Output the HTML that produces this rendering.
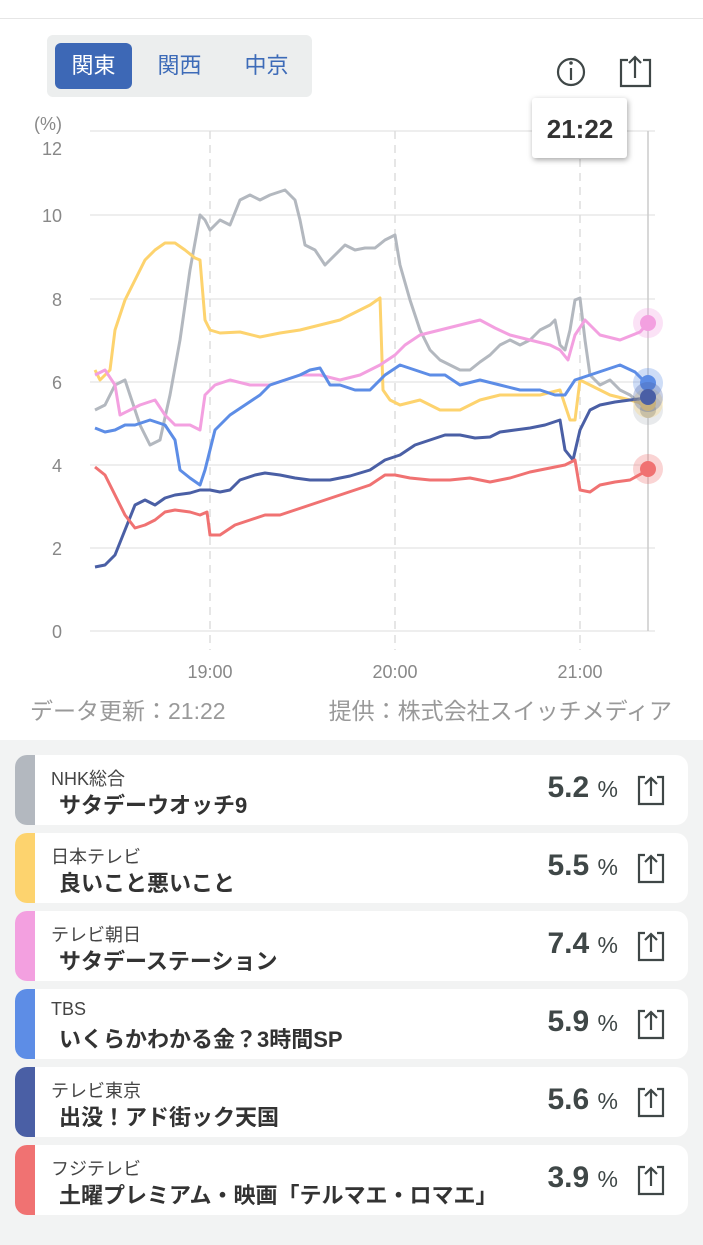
<!DOCTYPE html>
<html><head><meta charset="utf-8"><style>
*{margin:0;padding:0;box-sizing:border-box}
body{width:703px;height:1245px;background:#fff;font-family:"Liberation Sans","Noto Sans CJK JP",sans-serif;position:relative;overflow:hidden}
.abs{position:absolute}
.tabs{left:47px;top:35px;width:265px;height:62px;background:#eceeee;border-radius:6px}
.tab{position:absolute;top:8px;height:46px;width:77px;line-height:46px;text-align:center;font-size:22px;color:#3d6bb8}
.tab.on{background:#3d68b6;color:#fff;border-radius:6px}
.bottom{left:0;top:740px;width:703px;height:505px;background:#f2f3f3}
.card{position:absolute;left:15px;width:673px;height:70px;background:#fff;border-radius:12px;overflow:hidden}
.card .bar{position:absolute;left:0;top:0;width:20px;height:70px}
.card .ch{position:absolute;left:36px;top:10px;font-size:18px;color:#444}
.card .pg{position:absolute;left:44px;top:33px;font-size:22px;font-weight:bold;color:#333}
.card .val{position:absolute;right:70px;top:16px;font-size:30px;font-weight:bold;color:#3f4747}
.card .val span{font-size:23px;font-weight:normal}
.card svg{position:absolute;right:22px;top:19px}
</style></head><body>
<div class="abs" style="left:0;top:18px;width:703px;height:1px;background:#e6e6e6"></div>
<div class="abs tabs"><div class="tab on" style="left:8px">関東</div><div class="tab" style="left:94px">関西</div><div class="tab" style="left:181px">中京</div></div>
<svg class="abs" style="left:0;top:0" width="703" height="740">
<g stroke="#3f4747" stroke-width="2.2" fill="none">
<circle cx="571" cy="72" r="13"/><line x1="571" y1="68" x2="571" y2="80"/>
<path d="M628 60h-7v26h29v-26h-7M635 78v-20M629 63l6-6 6 6"/>
</g><circle cx="571" cy="63" r="1.8" fill="#3f4747"/>
<g stroke="#e8e8e8" stroke-width="1.5">
<line x1="90" y1="131" x2="655" y2="131"/><line x1="90" y1="215" x2="655" y2="215"/><line x1="90" y1="299" x2="655" y2="299"/><line x1="90" y1="382" x2="655" y2="382"/><line x1="90" y1="465" x2="655" y2="465"/><line x1="90" y1="548" x2="655" y2="548"/><line x1="90" y1="631" x2="655" y2="631"/>
</g>
<g stroke="#ddd" stroke-width="1.5" stroke-dasharray="8,6"><line x1="210" y1="131" x2="210" y2="650"/><line x1="395" y1="131" x2="395" y2="650"/><line x1="580" y1="131" x2="580" y2="650"/></g>
<line x1="648" y1="131" x2="648" y2="631" stroke="#ccc" stroke-width="1.5"/>
<g font-size="18" fill="#888" text-anchor="end"><text x="62" y="130">(%)</text><text x="62" y="155">12</text><text x="62" y="222">10</text><text x="62" y="306">8</text><text x="62" y="389">6</text><text x="62" y="472">4</text><text x="62" y="555">2</text><text x="62" y="638">0</text></g>
<g font-size="18" fill="#888" text-anchor="middle"><text x="210" y="678">19:00</text><text x="395" y="678">20:00</text><text x="580" y="678">21:00</text></g>
<g fill="none" stroke-width="3" stroke-linejoin="round">
<polyline stroke="#b3b8bf" points="95,410 105,405 115,385 125,380 130,395 140,425 150,445 160,440 170,395 180,340 190,270 200,215 205,220 210,230 220,220 230,225 240,200 250,195 260,200 270,195 285,190 295,200 300,220 305,245 315,250 325,265 335,255 345,245 355,250 365,248 375,248 385,240 395,235 400,265 410,300 420,330 430,350 440,360 450,365 460,370 470,370 480,362 490,355 500,345 510,340 520,345 530,340 540,330 550,325 555,320 560,345 565,350 570,330 575,300 580,298 585,340 590,375 600,385 610,380 620,390 630,395 648,410"/>
<polyline stroke="#fdd36e" points="95,370 100,380 105,375 110,370 115,330 125,300 135,280 145,260 155,250 165,243 175,243 185,250 195,258 200,260 205,320 210,330 220,333 240,332 260,337 280,333 300,330 320,325 340,320 360,310 370,305 380,298 383,390 390,400 400,405 420,400 440,410 460,410 480,400 500,395 520,395 540,395 560,390 570,420 575,420 580,380 590,385 610,395 630,400 648,405"/>
<polyline stroke="#f3a0e0" points="95,375 105,370 115,385 120,415 130,410 140,405 155,400 165,415 175,425 190,425 200,430 205,395 215,385 230,380 250,385 270,385 285,380 300,375 320,375 340,380 360,375 380,365 395,355 405,345 420,335 440,330 460,325 480,320 495,328 510,335 530,340 550,345 560,350 568,360 575,335 585,320 600,335 620,340 640,332 648,323"/>
<polyline stroke="#5d8de6" points="95,428 105,432 115,430 125,425 135,425 150,420 165,425 175,440 180,470 190,478 200,485 205,470 215,430 230,415 245,405 260,395 270,385 285,380 300,375 310,370 320,368 330,385 340,385 355,390 370,390 385,375 400,365 415,370 430,375 445,375 460,385 480,380 500,385 520,390 540,390 555,395 565,395 575,380 590,375 605,370 620,365 635,372 648,385"/>
<polyline stroke="#4a5fa5" points="95,567 105,565 115,555 125,530 135,505 145,500 155,505 165,498 175,495 190,493 200,490 210,490 220,492 230,490 240,480 255,475 265,473 280,475 295,478 310,480 330,480 350,476 370,470 385,460 400,455 415,445 430,440 445,435 460,435 475,438 490,437 500,432 515,430 530,428 545,425 560,420 565,450 573,460 580,430 590,410 600,405 615,402 630,400 648,398"/>
<polyline stroke="#f07272" points="95,467 105,475 115,495 125,515 135,528 145,525 155,520 165,512 175,510 190,512 200,515 207,512 210,535 220,535 235,525 250,520 265,515 280,515 295,510 310,505 325,500 340,495 355,490 370,485 385,475 395,475 410,478 430,480 450,480 470,478 490,482 510,478 530,472 550,468 565,465 575,460 580,490 590,492 600,485 615,482 630,480 648,470"/>
</g>
<g>
<circle cx="648" cy="410" r="15" fill="#b3b8bf" opacity=".3"/><circle cx="648" cy="410" r="8" fill="#b3b8bf"/>
<circle cx="648" cy="403" r="15" fill="#fdd36e" opacity=".3"/><circle cx="648" cy="403" r="8" fill="#fdd36e"/>
<circle cx="648" cy="383" r="15" fill="#5d8de6" opacity=".3"/><circle cx="648" cy="383" r="8" fill="#5d8de6"/>
<circle cx="648" cy="397" r="15" fill="#4a5fa5" opacity=".3"/><circle cx="648" cy="397" r="8" fill="#4a5fa5"/>
<circle cx="648" cy="323" r="15" fill="#f3a0e0" opacity=".3"/><circle cx="648" cy="323" r="8" fill="#f3a0e0"/>
<circle cx="648" cy="469" r="15" fill="#f07272" opacity=".3"/><circle cx="648" cy="469" r="8" fill="#f07272"/>
</g>
<rect x="532" y="98" width="95" height="60" rx="3" fill="#fff" style="filter:drop-shadow(1px 2px 3px rgba(0,0,0,.35))"/>
<text x="580" y="138" text-anchor="middle" font-size="26" font-weight="bold" fill="#333">21:22</text>
<text x="30" y="719" font-size="23" fill="#999">データ更新：21:22</text>
<text x="672" y="719" font-size="23" fill="#999" text-anchor="end">提供：株式会社スイッチメディア</text>
</svg>
<div class="abs bottom"></div>
<div class="card" style="top:755px"><div class="bar" style="background:#b3b8bf"></div><div class="ch">NHK総合</div><div class="pg">サタデーウオッチ9</div><div class="val">5.2 <span>%</span></div><svg width="30" height="32"><path d="M9 3H3v27h24V3h-6M15 22V4M9 10l6-6 6 6" fill="none" stroke="#3f4747" stroke-width="2.2"/></svg></div>
<div class="card" style="top:833px"><div class="bar" style="background:#fdd36e"></div><div class="ch">日本テレビ</div><div class="pg">良いこと悪いこと</div><div class="val">5.5 <span>%</span></div><svg width="30" height="32"><path d="M9 3H3v27h24V3h-6M15 22V4M9 10l6-6 6 6" fill="none" stroke="#3f4747" stroke-width="2.2"/></svg></div>
<div class="card" style="top:911px"><div class="bar" style="background:#f3a0e0"></div><div class="ch">テレビ朝日</div><div class="pg">サタデーステーション</div><div class="val">7.4 <span>%</span></div><svg width="30" height="32"><path d="M9 3H3v27h24V3h-6M15 22V4M9 10l6-6 6 6" fill="none" stroke="#3f4747" stroke-width="2.2"/></svg></div>
<div class="card" style="top:989px"><div class="bar" style="background:#5d8de6"></div><div class="ch">TBS</div><div class="pg">いくらかわかる金？3時間SP</div><div class="val">5.9 <span>%</span></div><svg width="30" height="32"><path d="M9 3H3v27h24V3h-6M15 22V4M9 10l6-6 6 6" fill="none" stroke="#3f4747" stroke-width="2.2"/></svg></div>
<div class="card" style="top:1067px"><div class="bar" style="background:#4a5fa5"></div><div class="ch">テレビ東京</div><div class="pg">出没！アド街ック天国</div><div class="val">5.6 <span>%</span></div><svg width="30" height="32"><path d="M9 3H3v27h24V3h-6M15 22V4M9 10l6-6 6 6" fill="none" stroke="#3f4747" stroke-width="2.2"/></svg></div>
<div class="card" style="top:1145px"><div class="bar" style="background:#f07272"></div><div class="ch">フジテレビ</div><div class="pg">土曜プレミアム・映画「テルマエ・ロマエ」</div><div class="val">3.9 <span>%</span></div><svg width="30" height="32"><path d="M9 3H3v27h24V3h-6M15 22V4M9 10l6-6 6 6" fill="none" stroke="#3f4747" stroke-width="2.2"/></svg></div>
</body></html>
